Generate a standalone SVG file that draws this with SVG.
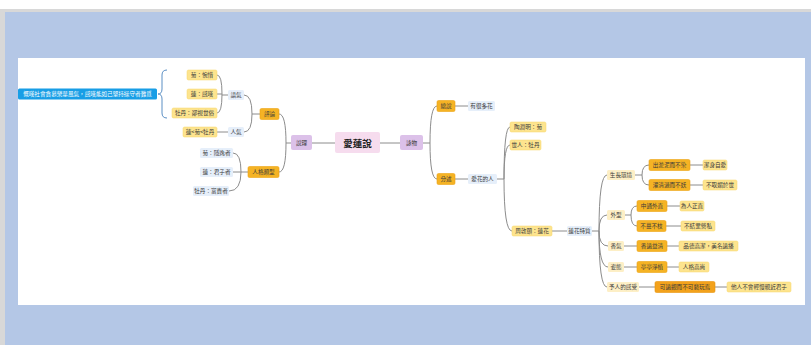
<svg xmlns="http://www.w3.org/2000/svg" width="811" height="345" viewBox="0 0 811 345">
<style>
text{font-family:"Noto Sans CJK TC","Noto Sans CJK SC",sans-serif;font-size:5.6px;fill:#3a3a3a;text-anchor:middle;dominant-baseline:central}
.o{fill:#f5b324;stroke:#eda312;stroke-width:0.6}
.od{fill:#f3a21c;stroke:#e8930c;stroke-width:0.6}
.y{fill:#fde48e;stroke:#f7d66a;stroke-width:0.5}
.py{fill:#fdefc6}
.b{fill:#e6effa}
.p{fill:#dcc1e9}
.c{fill:#f6dcee}
.ln{fill:none;stroke:#8c8c8c;stroke-width:1}
</style>
<rect x="0" y="0" width="811" height="345" fill="#ffffff"/>
<rect x="0" y="9" width="811" height="336" fill="#d8d8d8"/>
<rect x="5" y="12" width="806" height="333" fill="#b4c7e6"/>
<rect x="18" y="58" width="787" height="247" fill="#ffffff"/>

<g id="connectors" class="ln">
<path d="M312,143H335M380,143H400"/>
<path d="M291,143H286M286,143Q286,114 279,114M286,143Q286,172 279,172"/>
<path d="M260,114H252M252,114Q252,95 244,95M252,114Q252,132 244,132"/>
<path d="M228,95H222M222,94Q222,75 217,75M222,94H217M222,94Q222,113 217,113"/>
<path d="M228,132H217"/>
<path d="M248,172H241M241,172Q241,153 233,153M241,172H233M241,172Q241,191 229,191"/>
<path d="M423,143H430M430,143Q430,106 437,106M430,143Q430,179 437,179"/>
<path d="M455,106H468M455,179H468"/>
<path d="M497,179H504M504,179Q504,127 510,127M504,179Q504,145 510,145M504,179Q504,231 512,231"/>
<path d="M552,231H567"/>
<path d="M592,231H599M599,231Q599,175 607,175M599,231Q599,215 607,215M599,231Q599,246 608,246M599,231Q599,267 608,267M599,231Q599,287 607,287"/>
<path d="M635,175H642M642,175Q642,165 649,165M642,175Q642,185 649,185"/>
<path d="M690,165H703M690,185H703"/>
<path d="M625,215H631M631,215Q631,206 637,206M631,215Q631,226 637,226"/>
<path d="M667,206H680M666,226H681"/>
<path d="M624,246H637M667,246H679M624,267H637M667,267H679"/>
<path d="M639,287H655M715,287H727"/>
</g>

<g id="note">
<rect x="18" y="88.5" width="139" height="11" rx="1.5" fill="#189ee6"/>
<text x="87.5" y="94" style="fill:#ffffff">慨嘆社會貪慕榮華風氣，感嘆能如己堅持操守者難覓</text>
<path d="M167,70Q162,70 162,75V89Q162,94 158,94Q162,94 162,99V113Q162,118 167,118" fill="none" stroke="#5b8fc4" stroke-width="1"/>
</g>

<g id="n-center"><rect class="c" x="335" y="132" width="45" height="21" rx="2"/><text x="357.5" y="142.5" style="font-size:9.5px;font-weight:bold;fill:#222">愛蓮說</text></g>
<g id="n-shuoli"><rect class="p" x="291" y="135" width="21" height="15" rx="2"/><text x="301.5" y="142.5">說理</text></g>
<g id="n-yongwu"><rect class="p" x="400" y="135" width="23" height="15" rx="2"/><text x="411.5" y="142.5">詠物</text></g>

<g id="n-pinglun"><rect class="o" x="260" y="108.5" width="19" height="11" rx="1.5"/><text x="269.5" y="114">評論</text></g>
<g id="n-renge"><rect class="o" x="248" y="166.5" width="31" height="11" rx="1.5"/><text x="263.5" y="172">人格類型</text></g>
<g id="n-yuqi"><rect class="b" x="228" y="90" width="16" height="10" rx="1.5"/><text x="236" y="95">語氣</text></g>
<g id="n-renqi"><rect class="b" x="228" y="127" width="16" height="10" rx="1.5"/><text x="236" y="132">人氣</text></g>
<g id="n-ju1"><rect class="y" x="187" y="70" width="30" height="10" rx="1.5"/><text x="202" y="75">菊：惋惜</text></g>
<g id="n-lian1"><rect class="y" x="187" y="89" width="30" height="10" rx="1.5"/><text x="202" y="94">蓮：感嘆</text></g>
<g id="n-mu1"><rect class="y" x="172" y="108" width="45" height="10" rx="1.5"/><text x="194.5" y="113">牡丹：鄙視世俗</text></g>
<g id="n-rank"><rect class="y" x="183" y="127" width="34" height="10" rx="1.5"/><text x="200" y="132">蓮&lt;菊&lt;牡丹</text></g>
<g id="n-ju2"><rect class="b" x="200" y="148" width="33" height="10" rx="1.5"/><text x="216.5" y="153">菊：隱逸者</text></g>
<g id="n-lian2"><rect class="b" x="200" y="167" width="33" height="10" rx="1.5"/><text x="216.5" y="172">蓮：君子者</text></g>
<g id="n-mu2"><rect class="b" x="193" y="186" width="36" height="10" rx="1.5"/><text x="211" y="191">牡丹：富貴者</text></g>

<g id="n-zongshuo"><rect class="o" x="437" y="100.5" width="18" height="11" rx="1.5"/><text x="446" y="106">總說</text></g>
<g id="n-fenshu"><rect class="o" x="437" y="173.5" width="18" height="11" rx="1.5"/><text x="446" y="179">分述</text></g>
<g id="n-duohua"><rect class="b" x="468" y="101" width="27" height="10" rx="1.5"/><text x="481.5" y="106">有很多花</text></g>
<g id="n-aihua"><rect class="b" x="468" y="174" width="29" height="10" rx="1.5"/><text x="482.5" y="179">愛花的人</text></g>
<g id="n-tao"><rect class="y" x="510" y="122" width="36" height="10" rx="1.5"/><text x="528" y="127">陶淵明：菊</text></g>
<g id="n-shiren"><rect class="y" x="510" y="140" width="31" height="10" rx="1.5"/><text x="525.5" y="145">世人：牡丹</text></g>
<g id="n-zhou"><rect class="y" x="512" y="226" width="40" height="10" rx="1.5"/><text x="532" y="231">周敦頤：蓮花</text></g>
<g id="n-tezhi"><rect class="b" x="567" y="226" width="25" height="10" rx="1.5"/><text x="579.5" y="231">蓮花特質</text></g>

<g id="n-huanjing"><rect class="py" x="607" y="170" width="28" height="10" rx="1.5"/><text x="621" y="175">生長環境</text></g>
<g id="n-waixing"><rect class="py" x="607" y="210" width="18" height="10" rx="1.5"/><text x="616" y="215">外型</text></g>
<g id="n-xiangqi"><rect class="py" x="608" y="241" width="16" height="10" rx="1.5"/><text x="616" y="246">香氣</text></g>
<g id="n-zitai"><rect class="py" x="608" y="262" width="16" height="10" rx="1.5"/><text x="616" y="267">姿態</text></g>
<g id="n-ganshou"><rect class="py" x="607" y="282" width="32" height="10" rx="1.5"/><text x="623" y="287">予人的感受</text></g>

<g id="n-yuni"><rect class="o" x="649" y="159.5" width="41" height="11" rx="1.5"/><text x="669.5" y="165">出淤泥而不染</text></g>
<g id="n-zhuo"><rect class="o" x="649" y="179.5" width="41" height="11" rx="1.5"/><text x="669.5" y="185">濯清漣而不妖</text></g>
<g id="n-jieshen"><rect class="y" x="703" y="160" width="24" height="10" rx="1.5"/><text x="715" y="165">潔身自愛</text></g>
<g id="n-qumei"><rect class="y" x="703" y="180" width="34" height="10" rx="1.5"/><text x="720" y="185">不取媚於世</text></g>
<g id="n-zhongtong"><rect class="o" x="637" y="200.5" width="30" height="11" rx="1.5"/><text x="652" y="206">中通外直</text></g>
<g id="n-zhengzhi"><rect class="y" x="680" y="201" width="24" height="10" rx="1.5"/><text x="692" y="206">為人正直</text></g>
<g id="n-buman"><rect class="o" x="637" y="220.5" width="29" height="11" rx="1.5"/><text x="651.5" y="226">不蔓不枝</text></g>
<g id="n-jiedang"><rect class="y" x="681" y="221" width="34" height="10" rx="1.5"/><text x="698" y="226">不結黨營私</text></g>
<g id="n-xiangyuan"><rect class="o" x="637" y="240.5" width="30" height="11" rx="1.5"/><text x="652" y="246">香遠益清</text></g>
<g id="n-pinde"><rect class="y" x="679" y="241" width="59" height="10" rx="1.5"/><text x="708.5" y="246">品德高潔，美名遠播</text></g>
<g id="n-tingting"><rect class="o" x="637" y="261.5" width="30" height="11" rx="1.5"/><text x="652" y="267">亭亭淨植</text></g>
<g id="n-gaoshang"><rect class="y" x="679" y="262" width="30" height="10" rx="1.5"/><text x="694" y="267">人格高尚</text></g>
<g id="n-yuanguan"><rect class="od" x="655" y="281.5" width="60" height="11" rx="1.5"/><text x="685" y="287">可遠觀而不可褻玩焉</text></g>
<g id="n-qingman"><rect class="y" x="727" y="282" width="64" height="10" rx="1.5"/><text x="759" y="287">他人不會輕慢親近君子</text></g>
</svg>
